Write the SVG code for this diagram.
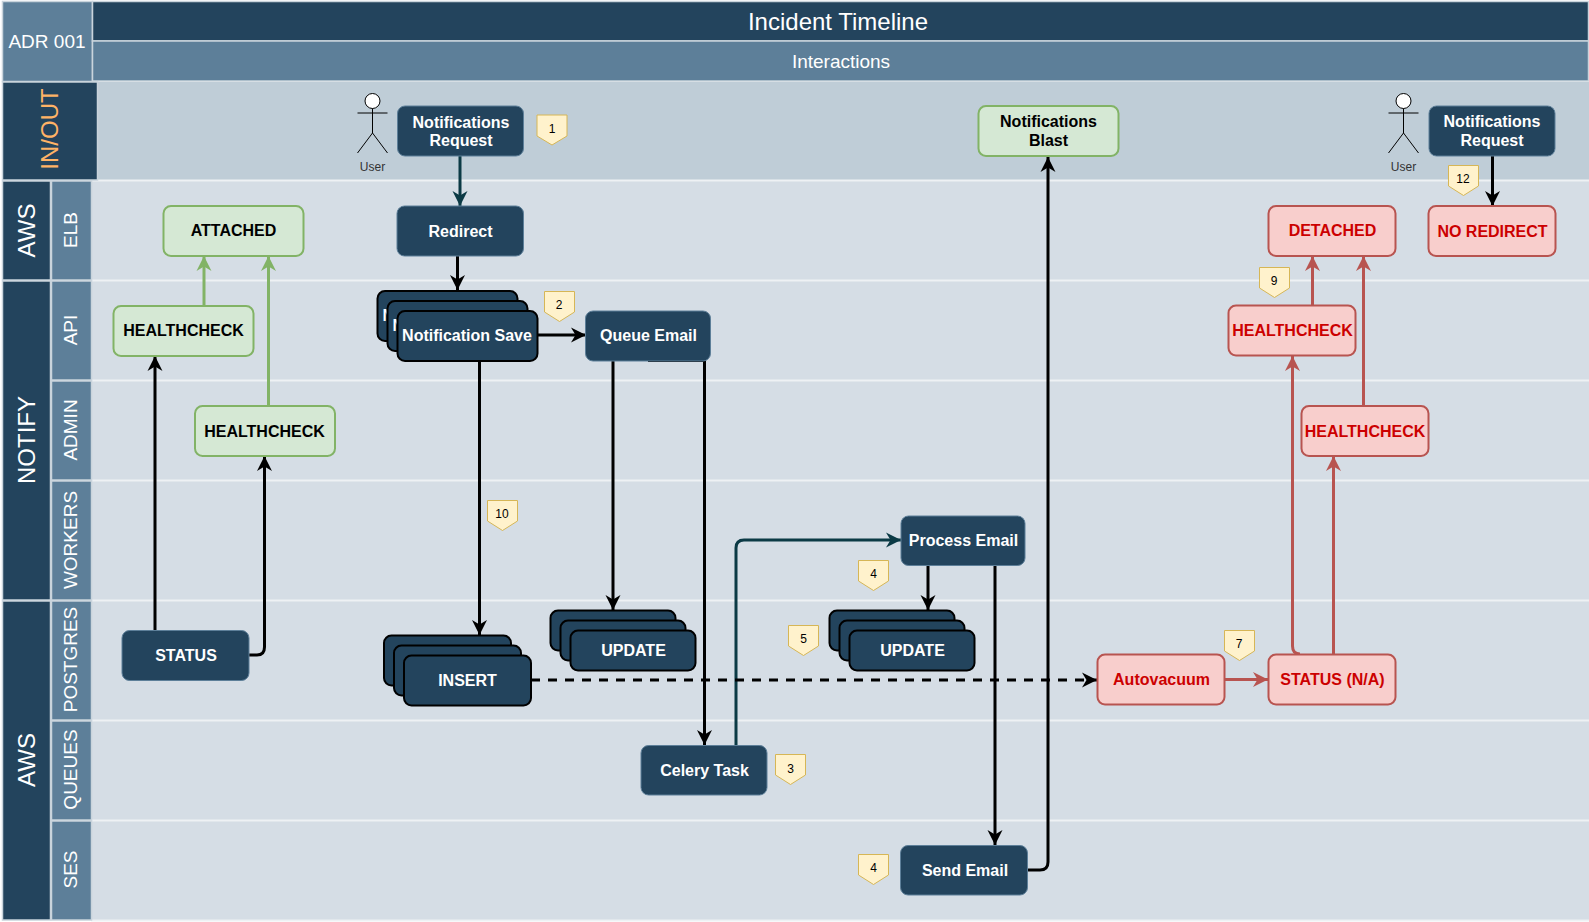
<svg xmlns="http://www.w3.org/2000/svg" width="1589" height="922" viewBox="0 0 1589 922">
<style>
text{font-family:"Liberation Sans",Arial,sans-serif;text-anchor:middle;dominant-baseline:central}
.dk{fill:#23445d}.md{fill:#5d7f99}
.cell{stroke:#c9d4dc;stroke-width:1.5}
.hd{fill:#fff;font-size:24px}.sub{fill:#fff;font-size:19px}
.n rect{stroke-width:2}
.b rect{fill:#23445d;stroke:#5d7f99;stroke-width:1}
.b text,.s text{fill:#fff;font-weight:bold;font-size:16px}
.s rect{fill:#23445d;stroke:#000;stroke-width:2}
.s .frag{text-anchor:start}
.g rect{fill:#d5e8d4;stroke:#82b366;stroke-width:2}
.g text{fill:#000;font-size:16px;font-weight:bold}
.r rect{fill:#f8cecc;stroke:#b85450;stroke-width:2}
.r text{fill:#c00;font-size:16px;font-weight:bold}
.bd polygon{fill:#fff2cc;stroke:#d6b656;stroke-width:1}
.bd text{fill:#000;font-size:12px}
.ac *{fill:none;stroke:#000;stroke-width:1}
.ac circle{fill:#fff}
.ac text{fill:#333;stroke:none;font-size:12px}
.c path{fill:none;stroke-width:3}
.k{stroke:#000}.t{stroke:#0b3a45}.gr{stroke:#82b366}.rd{stroke:#b85450}
.sep{stroke:#eef1f4;stroke-width:2}
</style>
<defs>
<marker id="ak" markerUnits="userSpaceOnUse" markerWidth="17" markerHeight="17" refX="15" refY="8.500" orient="auto"><path d="M0 1L15 8.500L0 16L4.500 8.500Z" fill="#000"/></marker>
<marker id="at" markerUnits="userSpaceOnUse" markerWidth="17" markerHeight="17" refX="15" refY="8.500" orient="auto"><path d="M0 1L15 8.500L0 16L4.500 8.500Z" fill="#0b3a45"/></marker>
<marker id="ag" markerUnits="userSpaceOnUse" markerWidth="17" markerHeight="17" refX="15" refY="8.500" orient="auto"><path d="M0 1L15 8.500L0 16L4.500 8.500Z" fill="#82b366"/></marker>
<marker id="ar" markerUnits="userSpaceOnUse" markerWidth="17" markerHeight="17" refX="15" refY="8.500" orient="auto"><path d="M0 1L15 8.500L0 16L4.500 8.500Z" fill="#b85450"/></marker>
</defs>
<rect width="1589" height="922" fill="#fff"/>
<g id="lanes">
<rect x="91" y="82" width="1498" height="98" fill="#bfcdd7"/>
<rect x="91" y="181" width="1498" height="739" fill="#d5dde5"/>
<path class="sep" d="M91 180.500H1589M91 280.500H1589M91 380.500H1589M91 480.500H1589M91 600.500H1589M91 720.500H1589M91 820.500H1589M91 920.500H1589"/>
</g>
<g id="headers">
<rect class="md cell" x="2.500" y="1.500" width="90" height="80"/>
<text x="47" y="41" fill="#fff" font-size="19">ADR 001</text>
<rect class="dk cell" x="92.500" y="1.500" width="1496" height="39.500"/>
<text x="838" y="21.500" fill="#fff" font-size="24">Incident Timeline</text>
<rect class="md cell" x="92.500" y="41" width="1496" height="40"/>
<text x="841" y="61" fill="#fff" font-size="19">Interactions</text>
<rect class="dk cell" x="2.500" y="82" width="95" height="98"/>
<text transform="translate(49.500 129) rotate(-90)" fill="#ffb366" font-size="24">IN/OUT</text>
<rect class="dk cell" x="2.500" y="181" width="48" height="99"/>
<text class="hd" transform="translate(26.500 230.500) rotate(-90)">AWS</text>
<rect class="dk cell" x="2.500" y="281" width="48" height="319"/>
<text class="hd" transform="translate(26.500 440) rotate(-90)">NOTIFY</text>
<rect class="dk cell" x="2.500" y="601" width="48" height="319"/>
<text class="hd" transform="translate(26.500 760) rotate(-90)">AWS</text>
<rect class="md cell" x="51.500" y="181" width="40" height="99"/>
<text class="sub" transform="translate(70.500 230) rotate(-90)">ELB</text>
<rect class="md cell" x="51.500" y="281" width="40" height="99"/>
<text class="sub" transform="translate(70.500 330) rotate(-90)">API</text>
<rect class="md cell" x="51.500" y="381" width="40" height="99"/>
<text class="sub" transform="translate(70.500 430) rotate(-90)">ADMIN</text>
<rect class="md cell" x="51.500" y="481" width="40" height="119"/>
<text class="sub" transform="translate(70.500 540) rotate(-90)">WORKERS</text>
<rect class="md cell" x="51.500" y="601" width="40" height="119"/>
<text class="sub" transform="translate(70.500 659.500) rotate(-90)">POSTGRES</text>
<rect class="md cell" x="51.500" y="721" width="40" height="99"/>
<text class="sub" transform="translate(70.500 769.500) rotate(-90)">QUEUES</text>
<rect class="md cell" x="51.500" y="821" width="40" height="99"/>
<text class="sub" transform="translate(70.500 869.500) rotate(-90)">SES</text>
</g>
<g id="connectors" class="c">
<path class="t" d="M460 156V206" marker-end="url(#at)"/>
<path class="k" d="M457.500 256V290" marker-end="url(#ak)"/>
<path class="k" d="M538 335H586" marker-end="url(#ak)"/>
<path class="k" d="M479.500 361V635" marker-end="url(#ak)"/>
<path class="k" d="M613 361V610" marker-end="url(#ak)"/>
<path class="k" d="M648 360.500H704.500V745" marker-end="url(#ak)"/>
<path class="t" d="M736 745V548Q736 540 744 540H901" marker-end="url(#at)"/>
<path class="k" d="M928 565V610" marker-end="url(#ak)"/>
<path class="k" d="M995 565V845" marker-end="url(#ak)"/>
<path class="k" d="M1027 870H1040Q1048 870 1048 862V157" marker-end="url(#ak)"/>
<path class="k" stroke-dasharray="9 8" d="M531 680H1097" marker-end="url(#ak)"/>
<path class="k" d="M155 630V356" marker-end="url(#ak)"/>
<path class="k" d="M249 655H257Q264.500 655 264.500 647V456" marker-end="url(#ak)"/>
<path class="gr" d="M204 306V256" marker-end="url(#ag)"/>
<path class="gr" d="M268.500 406V256" marker-end="url(#ag)"/>
<path class="k" d="M1492.500 156V206" marker-end="url(#ak)"/>
<path class="rd" d="M1225 679.500H1268" marker-end="url(#ar)"/>
<path class="rd" d="M1333.500 654V456" marker-end="url(#ar)"/>
<path class="rd" d="M1300 654Q1292.500 654 1292.500 646V356" marker-end="url(#ar)"/>
<path class="rd" d="M1312.500 305V256" marker-end="url(#ar)"/>
<path class="rd" d="M1363.500 406V256" marker-end="url(#ar)"/>
</g>
<g id="actor1" class="ac"><circle cx="372.500" cy="101" r="7.500"/><path d="M372.500 108.500V133M357.500 113H387.500M357.500 153L372.500 133L387.500 153"/><text x="372.500" y="167">User</text></g>
<g id="actor2" class="ac"><circle cx="1403.500" cy="101" r="7.500"/><path d="M1403.500 108.500V133M1388.500 113H1418.500M1388.500 153L1403.500 133L1418.500 153"/><text x="1403.500" y="167">User</text></g>
<g id="n-request1" class="n b"><rect x="397.500" y="106" width="126" height="50" rx="7.500"/><text x="461" y="122">Notifications</text><text x="461" y="140.500">Request</text></g>
<g id="n-blast" class="n g"><rect x="978.500" y="106" width="140" height="50" rx="7.500"/><text x="1048.500" y="121">Notifications</text><text x="1048.500" y="140">Blast</text></g>
<g id="n-request2" class="n b"><rect x="1429" y="106" width="126" height="50" rx="7.500"/><text x="1492" y="121">Notifications</text><text x="1492" y="140">Request</text></g>
<g id="n-redirect" class="n b"><rect x="397" y="206" width="126.500" height="50" rx="7.500"/><text x="460.500" y="231">Redirect</text></g>
<g id="n-attached" class="n g"><rect x="163.500" y="206" width="140" height="50" rx="7.500"/><text x="233.500" y="230">ATTACHED</text></g>
<g id="n-hc1" class="n g"><rect x="113.500" y="306" width="140" height="50" rx="7.500"/><text x="183.500" y="330">HEALTHCHECK</text></g>
<g id="n-hc2" class="n g"><rect x="195" y="406" width="140" height="50" rx="7.500"/><text x="264.500" y="431">HEALTHCHECK</text></g>
<g id="n-status" class="n b"><rect x="122" y="630.500" width="127" height="50" rx="7.500"/><text x="186" y="655">STATUS</text></g>
<g id="n-save" class="n s">
<rect x="377.500" y="291" width="140" height="50" rx="7.500"/><text class="frag" x="382.500" y="315">N</text>
<rect x="387.500" y="301" width="140" height="50" rx="7.500"/><text class="frag" x="392.500" y="325">N</text>
<rect x="397.500" y="311" width="140" height="50" rx="7.500"/><text x="467" y="335">Notification Save</text></g>
<g id="n-queue" class="n b"><rect x="585.500" y="311" width="125" height="50" rx="7.500"/><text x="648.500" y="335">Queue Email</text></g>
<g id="n-insert" class="n s">
<rect x="384" y="635.500" width="127" height="50" rx="7.500"/>
<rect x="394" y="645.500" width="127" height="50" rx="7.500"/>
<rect x="404" y="655.500" width="127" height="50" rx="7.500"/><text x="467.500" y="680">INSERT</text></g>
<g id="n-update1" class="n s">
<rect x="550.500" y="610.500" width="125" height="40" rx="7.500"/>
<rect x="560.500" y="620.500" width="125" height="40" rx="7.500"/>
<rect x="570.500" y="630.500" width="125" height="40" rx="7.500"/><text x="633.500" y="650">UPDATE</text></g>
<g id="n-update2" class="n s">
<rect x="829.500" y="610.500" width="125" height="40" rx="7.500"/>
<rect x="839.500" y="620.500" width="125" height="40" rx="7.500"/>
<rect x="849.500" y="630.500" width="125" height="40" rx="7.500"/><text x="912.500" y="650">UPDATE</text></g>
<g id="n-celery" class="n b"><rect x="641" y="745.500" width="126" height="49.500" rx="7.500"/><text x="704.500" y="770">Celery Task</text></g>
<g id="n-process" class="n b"><rect x="901" y="516" width="124" height="49.500" rx="7.500"/><text x="963.500" y="540">Process Email</text></g>
<g id="n-send" class="n b"><rect x="900.500" y="845.500" width="127" height="49.500" rx="7.500"/><text x="965" y="870">Send Email</text></g>
<g id="n-detached" class="n r"><rect x="1268.500" y="206" width="127" height="50" rx="7.500"/><text x="1332.500" y="230">DETACHED</text></g>
<g id="n-noredirect" class="n r"><rect x="1428.500" y="206" width="127" height="50" rx="7.500"/><text x="1492.500" y="231">NO REDIRECT</text></g>
<g id="n-hc3" class="n r"><rect x="1228.500" y="305.500" width="127" height="50" rx="7.500"/><text x="1292.500" y="330">HEALTHCHECK</text></g>
<g id="n-hc4" class="n r"><rect x="1301.500" y="406" width="127" height="50" rx="7.500"/><text x="1365" y="431">HEALTHCHECK</text></g>
<g id="n-auto" class="n r"><rect x="1097.500" y="654.500" width="127" height="50" rx="7.500"/><text x="1161.500" y="679.500">Autovacuum</text></g>
<g id="n-statusna" class="n r"><rect x="1268.500" y="654.500" width="127" height="50" rx="7.500"/><text x="1332.500" y="679.500">STATUS (N/A)</text></g>
<g id="badges" class="bd">
<g id="b1"><polygon points="537,115 567,115 567,136 552,145 537,136"/><text x="552" y="129">1</text></g>
<g id="b2"><polygon points="544.500,291.500 574.500,291.500 574.500,312 559.500,321.500 544.500,312"/><text x="559" y="304.500">2</text></g>
<g id="b10"><polygon points="487.500,500.500 517.500,500.500 517.500,521 502.500,530.500 487.500,521"/><text x="502" y="513.500">10</text></g>
<g id="b3"><polygon points="775.500,754.500 805.500,754.500 805.500,775 790.500,784.500 775.500,775"/><text x="790.500" y="769">3</text></g>
<g id="b5"><polygon points="788.500,625.500 818.500,625.500 818.500,646 803.500,655.500 788.500,646"/><text x="803.500" y="639">5</text></g>
<g id="b4a"><polygon points="858.500,560.500 888.500,560.500 888.500,581 873.500,590.500 858.500,581"/><text x="873.500" y="574">4</text></g>
<g id="b4b"><polygon points="858.500,854.500 888.500,854.500 888.500,875 873.500,884.500 858.500,875"/><text x="873.500" y="868">4</text></g>
<g id="b12"><polygon points="1448.500,165.500 1478.500,165.500 1478.500,186 1463.500,195.500 1448.500,186"/><text x="1463" y="178.500">12</text></g>
<g id="b9"><polygon points="1259.500,267.500 1289.500,267.500 1289.500,288 1274.500,297.500 1259.500,288"/><text x="1274" y="280.500">9</text></g>
<g id="b7"><polygon points="1224.500,630.500 1254.500,630.500 1254.500,651 1239.500,660.500 1224.500,651"/><text x="1239" y="643.500">7</text></g>
</g>
</svg>
